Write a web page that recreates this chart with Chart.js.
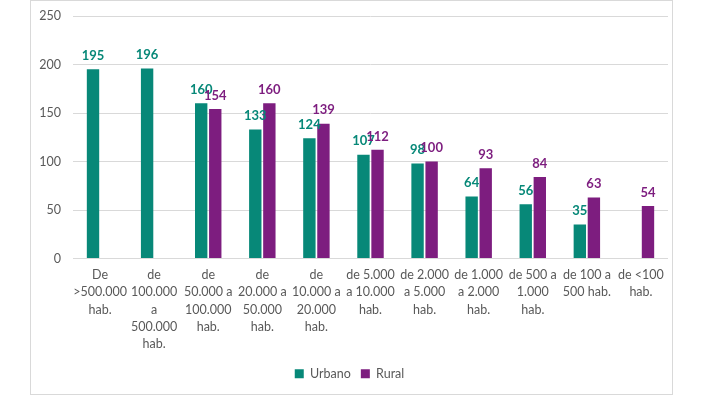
<!DOCTYPE html>
<html>
<head>
<meta charset="utf-8">
<script src="https://cdn.jsdelivr.net/npm/chart.js@4"></script>
<style>
  html, body { margin: 0; padding: 0; background: #fff; }
  #box { position: absolute; left: 30px; top: 0; width: 643px; height: 395px;
         border: 1px solid #d9d9d9; box-sizing: border-box; }
  canvas { display: block; }
</style>
</head>
<body>
<div id="box"><canvas id="chart" width="641" height="393"></canvas></div>
<script>
  // categories (multi-line labels, as in the original)
  const categories = [
    ['De', '>500.000', 'hab.'],
    ['de', '100.000', 'a', '500.000', 'hab.'],
    ['de', '50.000 a', '100.000', 'hab.'],
    ['de', '20.000 a', '50.000', 'hab.'],
    ['de', '10.000 a', '20.000', 'hab.'],
    ['de 5.000', 'a 10.000', 'hab.'],
    ['de 2.000', 'a 5.000', 'hab.'],
    ['de 1.000', 'a 2.000', 'hab.'],
    ['de 500 a', '1.000', 'hab.'],
    ['de 100 a', '500 hab.'],
    ['de <100', 'hab.']
  ];
  const urbano = [195, 196, 160, 133, 124, 107, 98, 64, 56, 35, null];
  const rural  = [null, null, 154, 160, 139, 112, 100, 93, 84, 63, 54];
  const yTicks = [0, 50, 100, 150, 200, 250];

  const TEAL = '#078878';
  const PURPLE = '#7d1d7f';
  const FONT = 'Lato, "Open Sans", sans-serif';

  // value labels above each bar
  const valueLabels = {
    id: 'valueLabels',
    afterDatasetsDraw(chart) {
      const ctx = chart.ctx;
      ctx.save();
      ctx.font = 'bold 13px ' + FONT;
      ctx.textAlign = 'center';
      ctx.textBaseline = 'bottom';
      chart.data.datasets.forEach((ds, i) => {
        const meta = chart.getDatasetMeta(i);
        ctx.fillStyle = ds.backgroundColor;
        meta.data.forEach((bar, j) => {
          const v = ds.data[j];
          if (v == null) return;
          ctx.fillText(String(v), bar.x, bar.y - 7);
        });
      });
      ctx.restore();
    }
  };

  new Chart(document.getElementById('chart'), {
    type: 'bar',
    data: {
      labels: categories,
      datasets: [
        { label: 'Urbano', data: urbano, backgroundColor: TEAL },
        { label: 'Rural', data: rural, backgroundColor: PURPLE }
      ]
    },
    options: {
      responsive: false,
      animation: false,
      layout: { padding: { top: 15, right: 4, left: 0, bottom: 4 } },
      datasets: { bar: { categoryPercentage: 0.52, barPercentage: 0.88 } },
      plugins: {
        tooltip: { enabled: false },
        legend: {
          position: 'bottom',
          labels: {
            font: { family: FONT, size: 12.5 },
            color: '#595959',
            boxWidth: 9, boxHeight: 9,
            padding: 10
          }
        }
      },
      scales: {
        x: {
          grid: { display: false },
          border: { display: false },
          ticks: {
            autoSkip: false, maxRotation: 0, minRotation: 0,
            padding: 0,
            color: '#595959',
            font: { family: FONT, size: 12.5, lineHeight: 1.38 }
          },
          afterFit(scale) { scale.height = 99; }
        },
        y: {
          min: 0, max: 250,
          afterBuildTicks(scale) { scale.ticks = yTicks.map(v => ({ value: v })); },
          grid: { color: '#d9d9d9', drawTicks: false },
          border: { display: false },
          ticks: {
            padding: 12,
            color: '#595959',
            font: { family: FONT, size: 12.5 }
          },
          afterFit(scale) {
            scale.width = 42;
            scale.paddingTop = 0;
            scale.paddingBottom = 0;
          }
        }
      }
    },
    plugins: [valueLabels]
  });
</script>
</body>
</html>
